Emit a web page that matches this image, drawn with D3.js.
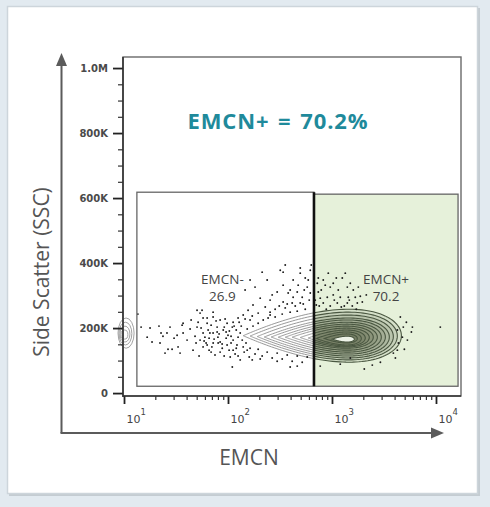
<!DOCTYPE html>
<html>
<head>
<meta charset="utf-8">
<script src="https://cdn.jsdelivr.net/npm/d3@7"></script>
<style>
  html, body { margin: 0; padding: 0; background: #e2eaf0; }
</style>
</head>
<body>
<div id="chart"></div>
<script>
// EMCN vs Side Scatter gate plot - contour + outlier events

const xMajorTicks = [10, 100, 1000, 10000];
const yMajorTicks = [0, 200, 400, 600, 800, 1000];   // SSC, thousands

const gateNames = ["EMCN-", "EMCN+"];
const gatePercents = ["26.9", "70.2"];
const gateX0 = [13.3, 671];
const gateX1 = [671, 16300];
const gateY0 = [21, 21];
const gateY1 = [618, 612];

const headline = "EMCN+ = 70.2%";

// main population contour rings, outer -> inner (EMCN extent, SSC extent in K)
const ringLeft   = [140, 163, 191, 223, 260, 304, 355, 414, 495, 591, 706, 843, 1006];
const ringRight  = [4650, 4250, 3890, 3560, 3260, 2980, 2730, 2495, 2284, 2090, 1914, 1752, 1639];
const ringTop    = [258, 249, 240, 231, 225, 218, 212, 206, 200, 194, 188, 182, 175];
const ringBottom = [95, 102, 108, 114, 120, 126, 132, 138, 142, 145, 148, 154, 157];

// small population piled on the low edge of the EMCN axis
const edgeLeft   = [8.76, 8.95, 9.15, 9.36];
const edgeRight  = [12.5, 11.9, 11.4, 10.9];
const edgeTop    = [231, 218, 206, 194];
const edgeBottom = [138, 148, 157, 166];

// individual events outside the contours [EMCN, SSC(K)]
const events = [
  [13.6,243],[14.6,203],[16.7,172],[18.6,157],[21.7,206],[22.7,185],[23.7,175],[25.9,185],[27.7,203],[26.5,135],
  [29,135],[30.3,169],[32.4,178],[33.1,142],[34.6,123],[37,215],[37,185],[40.4,163],[43.2,197],[44.2,225],
  [46.1,132],[48.2,175],[50.4,203],[53.9,246],[56.3,255],[53.9,163],[57.6,185],[61.6,154],[63,231],[65.8,169],
  [68.8,126],[71.9,185],[78.6,203],[80.4,154],[22.2,154],[24.8,123],[17.8,200],[36.2,209],[50.4,255],[71.9,249],
  [163,348],[238,348],[339,332],[423,348],[495,369],[618,378],[297,311],[379,308],[463,311],[517,295],
  [204,292],[254,286],[339,280],[414,277],[495,277],[174,271],[228,265],[284,258],[355,262],[156,255],
  [195,246],[254,240],[140,240],[125,231],[163,225],[112,218],[98,215],[84,225],[71.9,234],[63,215],
  [57.6,231],[110,203],[90,194],[78.6,188],[67,185],[60,172],[100,178],[112,163],[84,157],[72,154],
  [63,148],[98,148],[122,148],[140,142],[163,138],[195,135],[112,132],[84,126],[75,117],[105,111],
  [238,126],[297,123],[371,117],[463,114],[578,111],[110,80],[396,80],[171,102],[131,102],[578,326],
  [618,308],[591,348],[120,194],[131,185],[96,169],[107,154],[125,172],[143,126],[92,203],[103,191],
  [117,120],[149,154],[134,206],[153,197],[174,206],[195,215],[218,225],[243,231],[284,234],[332,243],
  [396,249],[463,252],[553,258],[213,114],[266,108],[332,105],[414,98],[517,95],[182,120],[70,142],
  [80,172],[88,138],[146,317],[182,326],[213,372],[318,378],[396,317],[473,332],[553,354],[266,302],
  [495,385],[355,394],[339,372],[423,295],[632,394],[541,317],
  [51.6,218],[55.1,200],[58.9,160],[64.4,194],[68.8,209],[73.5,166],[76.8,222],[82.1,182],[87.8,151],[93.8,228],
  [95.9,188],[102.5,132],[107,175],[114.5,206],[120,138],[128,218],[137,163],[146,228],[153,132],[171,237],
  [65.8,132],[57.6,142],[49.3,154],[52.7,114],[91.8,114],[125,114],[160,111],[204,105],[254,249],[311,268],
  [371,274],[443,268],[529,274],[604,286],[297,98],[463,83],
  [722,338],[824,348],[962,326],[1028,338],[1256,354],[1342,369],[1500,338],[1602,317],[1675,295],[1435,295],
  [1201,295],[1028,302],[901,295],[771,292],[690,286],[824,277],[1125,277],[1404,277],[1752,277],[1791,326],
  [921,369],[738,311],[1149,317],[1313,268],[962,268],[706,271],[788,317],[1568,268],[1872,298],
  [754,268],[881,258],[1052,286],[1229,265],[1467,286],[1713,258],[1957,280],[2138,302],[861,332],[1100,354],
  [1404,326],[738,354],
  [4540,234],[4850,203],[4250,194],[4750,172],[4350,154],[4250,132],[3890,123],[5310,163],[5930,203],[5800,188],
  [11000,203],[2045,74],[1500,108],[771,83],[1201,89],[2920,95],[4965,135],[4070,108],[2440,86],[5190,218]
];

function renderGatePlot(containerId) {
  const width = 490, height = 507;
  const plot = { left: 123, top: 57, right: 461, bottom: 396 };

  const svg = d3.select(`#${containerId}`)
    .append("svg")
    .attr("width", width)
    .attr("height", height)
    .style("display", "block");

  // slide card
  svg.append("rect")
    .attr("x", 9).attr("y", 8).attr("width", 471).attr("height", 488)
    .attr("fill", "#c4ccd2");
  svg.append("rect")
    .attr("x", 7.5).attr("y", 6.5).attr("width", 470).attr("height", 487)
    .attr("fill", "#fff").attr("stroke", "#cdd5db").attr("stroke-width", 1.5);

  const x = d3.scaleLog().domain([9.78, 17400]).range([plot.left, plot.right]);
  const y = d3.scaleLinear().domain([-9, 1034]).range([plot.bottom, plot.top]);

  const defs = svg.append("defs");
  const divX = x(gateX1[0]);
  defs.append("clipPath").attr("id", "clip-neg").append("rect")
    .attr("x", plot.left).attr("y", plot.top)
    .attr("width", divX - plot.left).attr("height", plot.bottom - plot.top);
  defs.append("clipPath").attr("id", "clip-pos").append("rect")
    .attr("x", divX).attr("y", plot.top)
    .attr("width", plot.right - divX).attr("height", plot.bottom - plot.top);

  // plot frame
  svg.append("rect")
    .attr("x", plot.left).attr("y", plot.top)
    .attr("width", plot.right - plot.left).attr("height", plot.bottom - plot.top)
    .attr("fill", "#fff").attr("stroke", "#6a6a6a").attr("stroke-width", 1.4);

  // gate fills
  const gates = gateNames.map((name, i) => ({
    name, pct: gatePercents[i], x0: gateX0[i], x1: gateX1[i], y0: gateY0[i], y1: gateY1[i]
  }));
  svg.selectAll("rect.gate-fill")
    .data(gates)
    .join("rect")
    .attr("class", "gate-fill")
    .attr("x", d => x(d.x0))
    .attr("y", d => y(d.y1))
    .attr("width", d => x(d.x1) - x(d.x0))
    .attr("height", d => y(d.y0) - y(d.y1))
    .attr("fill", (d, i) => i === 1 ? "#e6f1da" : "#fff");

  // teardrop ring: pointed on the low-EMCN side
  const ringLine = d3.line().curve(d3.curveLinearClosed);
  function ringPath(l, r, t, b) {
    const xl = x(l), xr = x(r), yt = y(t), yb = y(b);
    const yc = (yt + yb) / 2, h = (yb - yt) / 2 / 0.77;
    const pts = d3.range(0, 2 * Math.PI, Math.PI / 72).map(a => {
      const c = Math.cos(a);
      return [xl + (xr - xl) * (1 + c) / 2, yc - h * Math.sin(a) * Math.sqrt((1 + c) / 2)];
    });
    return ringLine(pts);
  }
  const rings = ringLeft.map((l, i) => ({ l, r: ringRight[i], t: ringTop[i], b: ringBottom[i], i }));

  // EMCN- side: light grey contour lines
  svg.append("g").attr("clip-path", "url(#clip-neg)")
    .selectAll("path")
    .data(rings)
    .join("path")
    .attr("d", d => ringPath(d.l, d.r, d.t, d.b))
    .attr("fill", "none")
    .attr("stroke", "#8c8c8c")
    .attr("stroke-width", 0.9);

  // EMCN+ side: dark olive contours
  const pos = svg.append("g").attr("clip-path", "url(#clip-pos)");
  pos.selectAll("path")
    .data(rings)
    .join("path")
    .attr("d", d => ringPath(d.l, d.r, d.t, d.b))
    .attr("fill", d => d.i === rings.length - 1 ? "#eef3e8" : "#4e5d44")
    .attr("fill-opacity", d => d.i === rings.length - 1 ? 1 : 0.11)
    .attr("stroke", "#4a5741")
    .attr("stroke-width", 1.1);

  // edge population
  svg.append("g")
    .selectAll("ellipse")
    .data(edgeLeft.map((l, i) => ({ l, r: edgeRight[i], t: edgeTop[i], b: edgeBottom[i] })))
    .join("ellipse")
    .attr("cx", d => (x(d.l) + x(d.r)) / 2)
    .attr("cy", d => (y(d.t) + y(d.b)) / 2)
    .attr("rx", d => (x(d.r) - x(d.l)) / 2)
    .attr("ry", d => (y(d.b) - y(d.t)) / 2)
    .attr("fill", "none")
    .attr("stroke", "#8c8c8c")
    .attr("stroke-width", 0.8);

  // events
  svg.append("g")
    .selectAll("circle")
    .data(events)
    .join("circle")
    .attr("cx", d => x(d[0]))
    .attr("cy", d => y(d[1]))
    .attr("r", 0.95)
    .attr("fill", "#1c1c1c");

  // gate outlines
  svg.selectAll("rect.gate-line")
    .data(gates)
    .join("rect")
    .attr("class", "gate-line")
    .attr("x", d => x(d.x0))
    .attr("y", d => y(d.y1))
    .attr("width", d => x(d.x1) - x(d.x0))
    .attr("height", d => y(d.y0) - y(d.y1))
    .attr("fill", "none")
    .attr("stroke", "#666")
    .attr("stroke-width", 1.3);

  svg.append("line")
    .attr("x1", divX).attr("x2", divX)
    .attr("y1", y(gateY1[0])).attr("y2", y(gateY0[0]))
    .attr("stroke", "#111").attr("stroke-width", 2.6);

  // gate labels
  const gl = svg.selectAll("g.gate-label")
    .data(gates)
    .join("g")
    .attr("class", "gate-label")
    .attr("transform", d => `translate(${(x(d.x0) + x(d.x1)) / 2 - (d.name === "EMCN-" ? 3 : 0)},0)`);
  gl.append("text")
    .attr("y", y(336))
    .attr("text-anchor", "middle")
    .style("font-family", "'Open Sans', sans-serif")
    .style("font-size", "13.5px")
    .style("fill", "#444")
    .text(d => d.name);
  gl.append("text")
    .attr("y", y(336) + 17)
    .attr("text-anchor", "middle")
    .style("font-family", "'Open Sans', sans-serif")
    .style("font-size", "13.5px")
    .style("fill", "#444")
    .text(d => d.pct);

  // Y axis
  const yMinor = d3.range(0, 1001, 50).filter(v => !yMajorTicks.includes(v));
  svg.append("g")
    .attr("transform", `translate(${plot.left},0)`)
    .call(d3.axisLeft(y).tickValues(yMinor).tickSize(5).tickFormat(""))
    .call(g => g.select(".domain").remove())
    .call(g => g.selectAll("line").attr("stroke", "#333").attr("stroke-width", 1.2));
  svg.append("g")
    .attr("transform", `translate(${plot.left},0)`)
    .call(d3.axisLeft(y).tickValues(yMajorTicks).tickSize(10).tickPadding(5)
      .tickFormat(v => v === 0 ? "0" : v >= 1000 ? (v / 1000).toFixed(1) + "M" : v + "K"))
    .call(g => g.select(".domain").remove())
    .call(g => g.selectAll("line").attr("stroke", "#222").attr("stroke-width", 1.8))
    .call(g => g.selectAll("text")
      .style("font-family", "'DejaVu Sans', sans-serif")
      .style("font-size", "10px")
      .style("font-weight", "bold")
      .style("fill", "#4a4a4a"));

  // X axis
  const xMinor = x.ticks().filter(v => !xMajorTicks.includes(v));
  svg.append("g")
    .attr("transform", `translate(0,${plot.bottom})`)
    .call(d3.axisBottom(x).tickValues(xMinor).tickSize(4).tickFormat(""))
    .call(g => g.select(".domain").remove())
    .call(g => g.selectAll("line").attr("stroke", "#333").attr("stroke-width", 1.2));
  const xMaj = svg.append("g")
    .attr("transform", `translate(0,${plot.bottom})`)
    .call(d3.axisBottom(x).tickValues(xMajorTicks).tickSize(8).tickFormat(""))
    .call(g => g.select(".domain").remove())
    .call(g => g.selectAll("line").attr("stroke", "#222").attr("stroke-width", 1.8));
  const lbl = xMaj.selectAll(".tick").append("text")
    .attr("x", 2).attr("y", 27)
    .attr("text-anchor", "start")
    .style("font-family", "'DejaVu Sans', sans-serif")
    .style("font-size", "11px")
    .style("fill", "#444");
  lbl.append("tspan").text("10");
  lbl.append("tspan")
    .attr("dy", -8)
    .style("font-size", "8.5px")
    .text(d => Math.round(Math.log10(d)));

  // axis lines (left and bottom of the frame)
  svg.append("line")
    .attr("x1", plot.left).attr("x2", plot.left)
    .attr("y1", plot.top).attr("y2", plot.bottom + 1)
    .attr("stroke", "#333").attr("stroke-width", 1.6);
  svg.append("line")
    .attr("x1", plot.left).attr("x2", plot.right)
    .attr("y1", plot.bottom).attr("y2", plot.bottom)
    .attr("stroke", "#333").attr("stroke-width", 1.6);

  // slide arrows
  const arrowColor = "#5b5b5b";
  svg.append("line")
    .attr("x1", 61.5).attr("y1", 433).attr("x2", 61.5).attr("y2", 62)
    .attr("stroke", arrowColor).attr("stroke-width", 2);
  svg.append("path")
    .attr("d", "M61.5,53 L56,66 L67,66 Z")
    .attr("fill", arrowColor);
  svg.append("line")
    .attr("x1", 60.5).attr("y1", 433).attr("x2", 434).attr("y2", 433)
    .attr("stroke", arrowColor).attr("stroke-width", 2);
  svg.append("path")
    .attr("d", "M444,433 L431,427.5 L431,438.5 Z")
    .attr("fill", arrowColor);

  // axis titles
  svg.append("text")
    .attr("x", 249).attr("y", 465)
    .attr("text-anchor", "middle")
    .style("font-family", "'Open Sans', sans-serif")
    .style("font-size", "21px")
    .style("fill", "#555")
    .text("EMCN");
  svg.append("text")
    .attr("transform", "translate(49,272) rotate(-90)")
    .attr("text-anchor", "middle")
    .style("font-family", "'Open Sans', sans-serif")
    .style("font-size", "21px")
    .style("fill", "#555")
    .text("Side Scatter (SSC)");

  // headline
  svg.append("text")
    .attr("x", 278).attr("y", 129)
    .attr("text-anchor", "middle")
    .style("font-family", "'Open Sans', sans-serif")
    .style("font-size", "22px")
    .style("font-weight", "bold")
    .style("letter-spacing", "0.9px")
    .style("word-spacing", "2px")
    .style("fill", "#1f8a9b")
    .text(headline);
}

document.addEventListener("DOMContentLoaded", () => {
  renderGatePlot("chart");
});
</script>
</body>
</html>
